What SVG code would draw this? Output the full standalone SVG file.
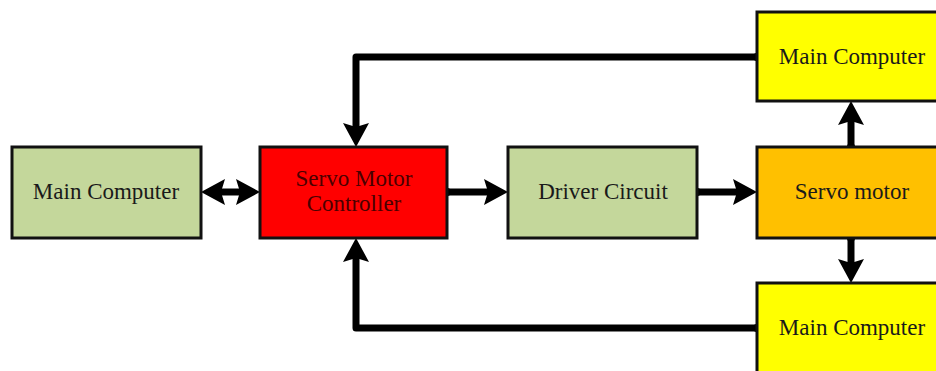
<svg xmlns="http://www.w3.org/2000/svg" width="936" height="371" viewBox="0 0 936 371">
  <style>
    .box { stroke: #111; stroke-width: 3; }
    .green { fill: #C4D79B; }
    .red { fill: #FF0000; }
    .orange { fill: #FFC000; }
    .yellow { fill: #FFFF00; }
    .lbl { font-family: "Liberation Serif", "Times New Roman", serif; font-size: 23px; fill: #1a1a1a; text-anchor: middle; }
    .lbl-red { fill: #4a0000; }
    .conn { fill: none; stroke: #000; stroke-width: 7; stroke-linejoin: round; }
  </style>
  <defs>
    <marker id="ah" viewBox="0 0 24 26" refX="8" refY="13" markerWidth="24" markerHeight="26" markerUnits="userSpaceOnUse" orient="auto-start-reverse">
      <path d="M0,0 L24,13 L0,26 L4,13 z" fill="#000"/>
    </marker>
  </defs>
  <rect width="936" height="371" fill="#fff"/>

  <g id="connectors">
    <line class="conn" x1="217" y1="192" x2="244" y2="192" marker-start="url(#ah)" marker-end="url(#ah)"/>
    <line class="conn" x1="447" y1="192" x2="492" y2="192" marker-end="url(#ah)"/>
    <line class="conn" x1="697" y1="192" x2="741" y2="192" marker-end="url(#ah)"/>
    <line class="conn" x1="851" y1="147" x2="851" y2="117" marker-end="url(#ah)"/>
    <line class="conn" x1="851" y1="238" x2="851" y2="267" marker-end="url(#ah)"/>
    <path class="conn" d="M757,57 H356 V131" marker-end="url(#ah)"/>
    <path class="conn" d="M757,328 H356 V254" marker-end="url(#ah)"/>
    <circle cx="447" cy="192" r="4" fill="#000"/>
    <circle cx="697" cy="192" r="4" fill="#000"/>
    <circle cx="851" cy="147" r="4" fill="#000"/>
    <circle cx="851" cy="238" r="4" fill="#000"/>
    <circle cx="757" cy="57" r="4" fill="#000"/>
    <circle cx="757" cy="328" r="4" fill="#000"/>
  </g>

  <g id="main-computer-left">
    <rect class="box green" x="12" y="147" width="189" height="91"/>
    <text class="lbl" x="106" y="199">Main Computer</text>
  </g>
  <g id="servo-motor-controller">
    <rect class="box red" x="260" y="147" width="187" height="91"/>
    <text class="lbl lbl-red" x="354" y="186">Servo Motor</text>
    <text class="lbl lbl-red" x="354" y="211">Controller</text>
  </g>
  <g id="driver-circuit">
    <rect class="box green" x="508" y="147" width="189" height="91"/>
    <text class="lbl" x="603" y="199">Driver Circuit</text>
  </g>
  <g id="servo-motor">
    <rect class="box orange" x="757" y="147" width="189" height="91"/>
    <text class="lbl" x="852" y="199">Servo motor</text>
  </g>
  <g id="main-computer-top">
    <rect class="box yellow" x="757" y="12" width="189" height="89"/>
    <text class="lbl" x="852" y="64">Main Computer</text>
  </g>
  <g id="main-computer-bottom">
    <rect class="box yellow" x="757" y="283" width="189" height="100"/>
    <text class="lbl" x="852" y="335">Main Computer</text>
  </g>
</svg>
